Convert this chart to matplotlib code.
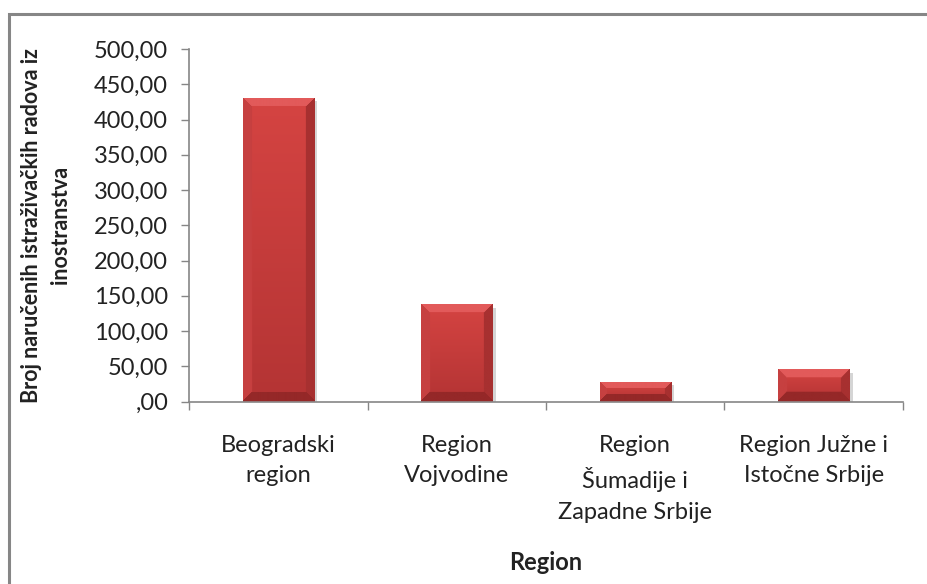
import numpy as np
import matplotlib
matplotlib.use("Agg")
import matplotlib.pyplot as plt
import matplotlib.patheffects as pe
from matplotlib.patches import Rectangle
from matplotlib.colors import to_rgb

# Data
regions = ["Beogradski\nregion", "Region\nVojvodine",
           "Region\nŠumadije i\nZapadne Srbije", "Region Južne i\nIstočne Srbije"]
values = [431, 138, 28, 46]
yticks = [0, 50, 100, 150, 200, 250, 300, 350, 400, 450, 500]
ytick_labels = [",00", "50,00", "100,00", "150,00", "200,00", "250,00",
                "300,00", "350,00", "400,00", "450,00", "500,00"]

plt.rcParams["font.family"] = ["Lato", "DejaVu Sans"]
grey = "#868686"

fig = plt.figure(figsize=(9.28, 5.84), dpi=100)
ax = fig.add_axes([0.2037, 0.3125, 0.7693, 0.6035])

# outer chart border (runs off right and bottom edge)
fig.patches.append(Rectangle((9 / 928, -0.2), 1.2, 1.2 - 14 / 584,
                             transform=fig.transFigure, fill=False,
                             edgecolor="#868686", linewidth=2.2))

x = np.arange(len(regions))
bars = ax.bar(x, values, width=0.4, color="#C23B3A", edgecolor="#9A3030",
              linewidth=0.5, zorder=2,
              path_effects=[pe.SimplePatchShadow(offset=(2.5, -2.5), shadow_rgbFace="#888888", alpha=0.35),
                            pe.Normal()])

ax.set_xlim(-0.5, len(regions) - 0.5)
ax.set_ylim(0, 500)
fig.canvas.draw()


def bevel_image(w, h, b=9):
    # main face: vertical gradient, edges shaded like a bevel
    top = np.array(to_rgb("#D54442"))
    bot = np.array(to_rgb("#B43434"))
    yy, xx = np.mgrid[0:h, 0:w]
    t = (yy / max(h - 1, 1))[..., None]
    img = top * (1 - t) + bot * t
    d_top = yy
    d_bot = h - 1 - yy
    d_left = xx
    d_right = w - 1 - xx
    dmin = np.minimum.reduce([d_top, d_bot, d_left, d_right])
    bb = min(b, h // 3 + 1)
    for d, col in [(d_left, "#C64040"), (d_right, "#A73030"),
                   (d_bot, "#952828"), (d_top, "#E25A5A")]:
        mask = (d == dmin) & (d < bb)
        img[mask] = to_rgb(col)
    return img


for rect in bars:
    x0, y0 = rect.get_x(), rect.get_y()
    x1, y1 = x0 + rect.get_width(), y0 + rect.get_height()
    p0 = ax.transData.transform((x0, y0))
    p1 = ax.transData.transform((x1, y1))
    w, h = int(round(p1[0] - p0[0])), int(round(p1[1] - p0[1]))
    im = ax.imshow(bevel_image(w, h), extent=(x0, x1, y0, y1), origin="upper",
                   aspect="auto", interpolation="bilinear", zorder=3)
    im.set_clip_path(rect)

ax.set_xlim(-0.5, len(regions) - 0.5)
ax.set_ylim(0, 500)

for s in ["top", "right"]:
    ax.spines[s].set_visible(False)
for s in ["left", "bottom"]:
    ax.spines[s].set_color(grey)
    ax.spines[s].set_linewidth(1.2)

ax.set_yticks(yticks)
ax.set_yticklabels(ytick_labels)
ax.tick_params(axis="y", direction="out", length=6, width=1, color=grey,
               labelsize=17, pad=9, labelcolor="#222222")

ax.set_xticks(x)
ax.set_xticklabels(regions, linespacing=1.55)
ax.tick_params(axis="x", which="major", length=0, pad=24, labelsize=17,
               labelcolor="#222222")
ax.set_xticks(np.arange(-0.5, len(regions)), minor=True)
ax.tick_params(axis="x", which="minor", direction="out", length=6, width=1, color=grey)

ax.set_xlabel("Region", fontsize=17, fontweight="bold", color="#222222")
ax.xaxis.set_label_coords(0.5, -0.458)
ax.xaxis.label.set_va("center")

ax.set_ylabel("Broj naručenih istraživačkih radova iz\ninostranstva", fontsize=15.5,
              fontweight="bold", color="#222222", linespacing=1.45)
ax.yaxis.set_label_coords(-0.2, 0.5)
ax.yaxis.label.set_va("center")

fig.savefig("out.png", dpi=100)
